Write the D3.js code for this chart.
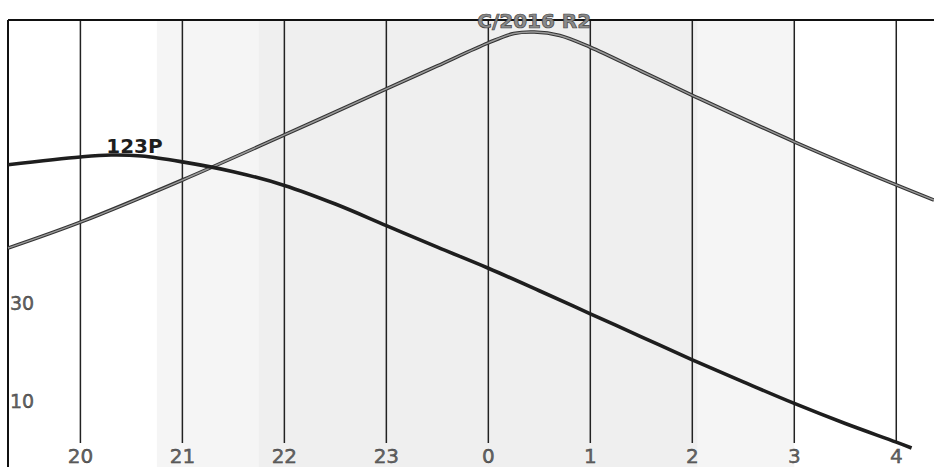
<!DOCTYPE html>
<html>
<head>
<meta charset="utf-8">
<script src="https://cdn.jsdelivr.net/npm/d3@7"></script>
<style>
body{margin:0;background:#fff}
svg{display:block;font-family:"DejaVu Sans",sans-serif}
</style>
</head>
<body>
<svg></svg>
<script>

// hours after midnight are written as 24+ so the axis stays continuous
var hourTicks = [20,21,22,23,24,25,26,27,28]
var hourLabels = ["20","21","22","23","0","1","2","3","4"]
var altTicks = [10,30]

var hours123P = [19.29,20,20.3,20.6,21,21.5,22,22.5,23,23.5,24,24.5,25,25.5,26,26.5,27,27.5,28,28.15]
var alt123P   = [58.2,59.8,60.2,60.0,58.8,56.8,54.0,50.2,45.8,41.4,37.1,32.5,27.8,23.1,18.4,13.9,9.5,5.4,1.6,0.4]

var hoursR2 = [19.29,20,21,22,23,23.5,24,24.25,24.45,24.7,25,25.5,26,27,28,28.37]
var altR2   = [41.2,46.5,55.1,64.3,73.7,78.4,83.1,85.0,85.3,84.6,82.2,77.3,72.4,62.9,54.1,51.0]

// twilight shading (hours)
var twilight = [20.75,27.0]
var night = [21.75,26.05]

var screen = {width:934,height:467}

var svg = d3.select("svg")
    .attr("width",screen.width)
    .attr("height",screen.height)

var xScale = d3.scaleLinear()
    .domain([19.29,28.37])
    .range([8,934])

var yScale = d3.scaleLinear()
    .domain([0,87.76])
    .range([450,20])

var topY = yScale(87.76)
var leftX = xScale(19.29)

svg.append("rect")
    .attr("x",xScale(twilight[0]))
    .attr("y",topY)
    .attr("width",xScale(twilight[1])-xScale(twilight[0]))
    .attr("height",screen.height-topY)
    .attr("fill","#f5f5f5")

svg.append("rect")
    .attr("x",xScale(night[0]))
    .attr("y",topY)
    .attr("width",xScale(night[1])-xScale(night[0]))
    .attr("height",screen.height-topY)
    .attr("fill","#efefef")

// hour grid lines
svg.selectAll(".grid")
    .data(hourTicks)
    .enter()
    .append("line")
    .attr("class","grid")
    .attr("x1",function(d){return xScale(d)})
    .attr("x2",function(d){return xScale(d)})
    .attr("y1",topY)
    .attr("y2",443)
    .attr("stroke","#222")
    .attr("stroke-width",1.5)

// frame, top and left
svg.append("line")
    .attr("x1",leftX).attr("x2",screen.width)
    .attr("y1",topY).attr("y2",topY)
    .attr("stroke","#111").attr("stroke-width",2)
svg.append("line")
    .attr("x1",leftX).attr("x2",leftX)
    .attr("y1",topY).attr("y2",screen.height)
    .attr("stroke","#111").attr("stroke-width",2)

svg.selectAll(".hlabel")
    .data(hourTicks)
    .enter()
    .append("text")
    .attr("class","hlabel")
    .attr("x",function(d){return xScale(d)})
    .attr("y",463)
    .attr("text-anchor","middle")
    .attr("font-size",20)
    .attr("fill","#666")
    .attr("stroke","#333")
    .attr("stroke-width",0.4)
    .text(function(d,i){return hourLabels[i]})

svg.selectAll(".alabel")
    .data(altTicks)
    .enter()
    .append("text")
    .attr("class","alabel")
    .attr("x",10)
    .attr("y",function(d){return yScale(d)})
    .attr("dy","0.36em")
    .attr("font-size",19)
    .attr("fill","#666")
    .attr("stroke","#333")
    .attr("stroke-width",0.4)
    .text(function(d){return d})

var makeLine = function(hrs)
{
    return d3.line()
        .x(function(d,i){return xScale(hrs[i])})
        .y(function(d){return yScale(d)})
        .curve(d3.curveCatmullRom)
}

// comet C/2016 R2: grey line with dark edges
svg.append("path")
    .attr("d",makeLine(hoursR2)(altR2))
    .attr("fill","none")
    .attr("stroke","#333")
    .attr("stroke-width",3.6)
svg.append("path")
    .attr("d",makeLine(hoursR2)(altR2))
    .attr("fill","none")
    .attr("stroke","#9a9a9a")
    .attr("stroke-width",1.4)

svg.append("path")
    .attr("d",makeLine(hours123P)(alt123P))
    .attr("fill","none")
    .attr("stroke","#1e1e1e")
    .attr("stroke-width",3.6)

svg.append("text")
    .attr("x",xScale(20.53))
    .attr("y",yScale(60.2)-2)
    .attr("text-anchor","middle")
    .attr("font-size",20)
    .attr("font-weight","bold")
    .attr("fill","#1e1e1e")
    .text("123P")

svg.append("text")
    .attr("x",xScale(24.45))
    .attr("y",yScale(85.3)-4)
    .attr("text-anchor","middle")
    .attr("font-size",20)
    .attr("font-weight","bold")
    .attr("fill","#8a8a8a")
    .attr("stroke","#444")
    .attr("stroke-width",0.7)
    .text("C/2016 R2")

</script>
</body>
</html>
